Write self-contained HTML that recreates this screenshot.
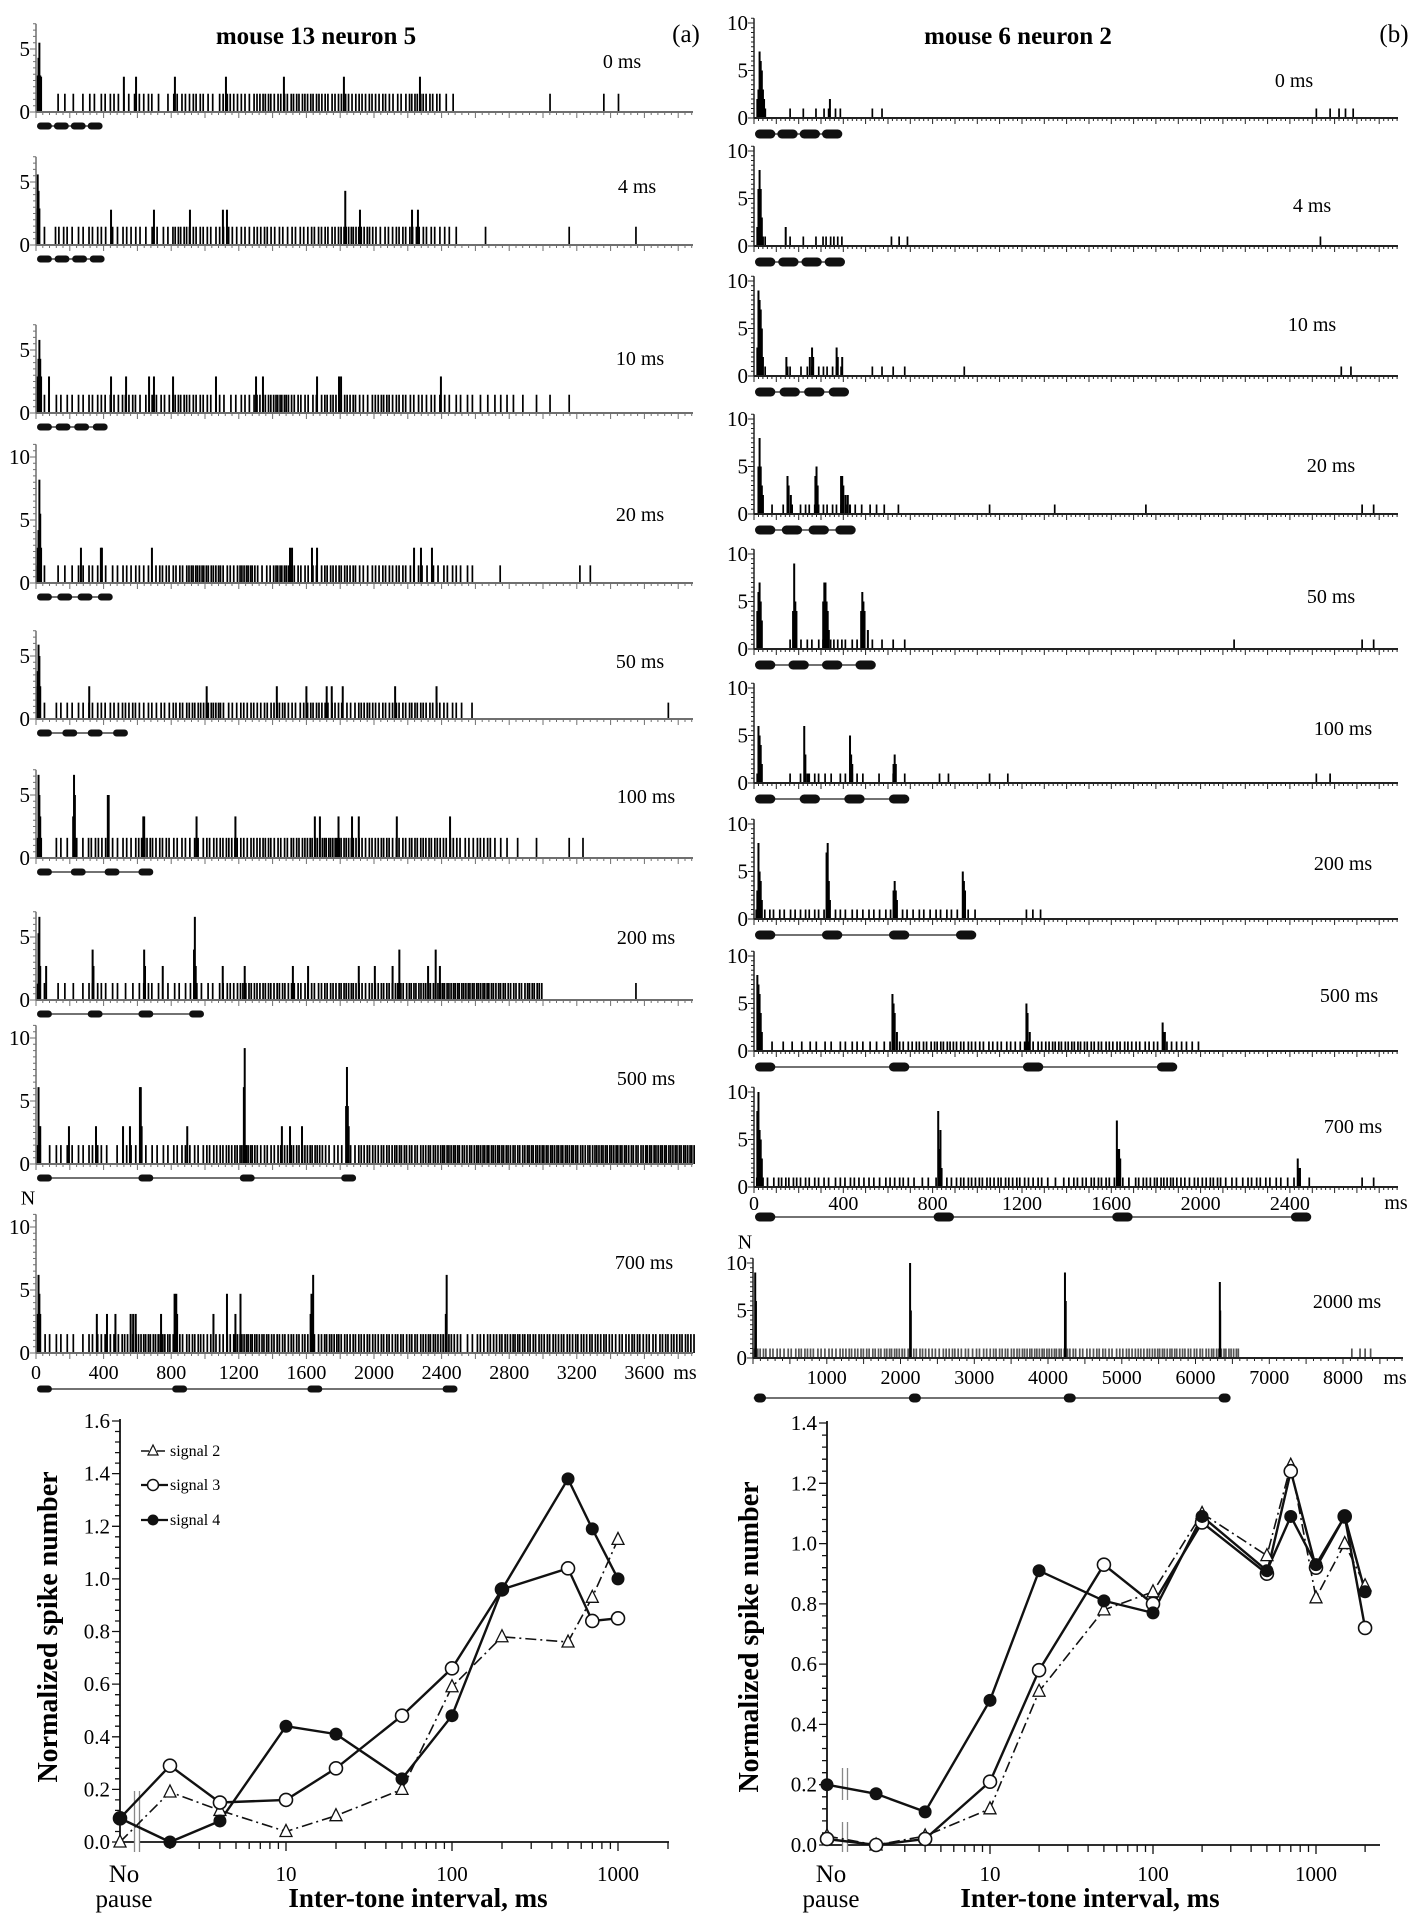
<!DOCTYPE html>
<html><head><meta charset="utf-8">
<style>
html,body{margin:0;padding:0;background:#fff;}
svg{display:block;font-family:"Liberation Serif",serif;}
</style></head>
<body>
<svg id="fig" xmlns="http://www.w3.org/2000/svg" width="1418" height="1918" viewBox="0 0 1418 1918">
<rect x="0" y="0" width="1418" height="1918" fill="#fff"/>
<text x="316" y="44" text-anchor="middle" font-size="25" font-weight="bold">mouse 13 neuron 5</text>
<text x="686" y="42" text-anchor="middle" font-size="25">(a)</text>
<text x="1018" y="44" text-anchor="middle" font-size="25" font-weight="bold">mouse 6 neuron 2</text>
<text x="1394" y="42" text-anchor="middle" font-size="25">(b)</text>
</svg>
<script>
// ===== Histogram data (spike density per bin, peak bins [time ms, value]) =====
const dens_L0 = [0,2,2,3,4,3,4,2,4,5,3,5,4,6,5,6,6,5,5,5,5,4,6,5,2,0,0,0,0,0,1,0,0,1,1,0,0,0,0];
const peaks_L0 = [[10,2.9],[15,4.3],[20,5.5],[25,2.9],[30,2.8],[520,2.8],[592,2.8],[822,2.8],[1124,2.8],[1467,2.8],[1822,2.8],[2272,2.8]];
const dens_L4 = [1,4,3,4,3,4,3,3,6,5,4,4,4,5,4,4,5,5,7,6,4,5,5,4,3,0,1,0,0,0,0,1,0,0,0,1,0,0,0];
const peaks_L4 = [[5,2.9],[10,5.6],[15,4.3],[20,2.9],[444,2.8],[698,2.8],[911,2.8],[1106,2.8],[1130,2.8],[1830,4.3],[1917,2.8],[2225,2.8],[2260,2.8]];
const dens_L10 = [1,3,3,4,4,5,3,4,6,5,4,3,4,6,8,5,4,6,6,4,6,5,4,4,3,3,2,3,2,1,1,1,0,0,0,0,0,0,0];
const peaks_L10 = [[10,2.9],[15,4.3],[20,5.8],[25,4.3],[30,2.9],[77,2.9],[444,2.9],[533,2.9],[669,2.9],[698,2.9],[811,2.9],[1065,2.9],[1302,2.9],[1343,2.9],[1663,2.9],[1793,2.9],[1805,2.9],[2396,2.9]];
const dens_L20 = [1,2,3,4,3,4,4,5,5,8,7,5,8,4,8,5,4,6,6,4,5,5,4,3,4,3,0,1,0,0,0,0,2,0,0,0,0,0,0];
const peaks_L20 = [[5,1.4],[10,2.8],[15,4.2],[20,8.2],[25,5.5],[30,2.8],[266,2.8],[384,2.8],[390,2.8],[686,2.8],[1503,2.8],[1515,2.8],[1633,2.8],[1663,2.8],[2237,2.8],[2278,2.8],[2343,2.8]];
const dens_L50 = [1,3,3,4,4,5,4,4,5,6,7,4,5,5,6,4,6,5,4,6,5,5,6,5,4,2,0,0,0,0,0,0,0,0,0,0,0,1,0];
const peaks_L50 = [[5,2.6],[10,3.8],[15,5.9],[20,5.0],[25,2.6],[315,2.6],[1010,2.6],[1425,2.6],[1600,2.6],[1720,2.6],[1750,2.6],[1815,2.6],[2125,2.6],[2370,2.6]];
const dens_L100 = [0,3,2,5,3,4,6,5,4,4,5,6,5,6,5,6,7,8,7,5,6,5,6,6,5,4,5,3,1,1,0,1,1,0,0,0,0,0,0];
const peaks_L100 = [[10,1.6],[15,6.6],[20,5.0],[25,3.3],[30,1.6],[220,3.3],[225,6.6],[230,5.0],[240,1.6],[425,5.0],[430,5.0],[630,1.6],[635,3.3],[640,3.3],[950,3.3],[1180,3.3],[1650,3.3],[1680,3.3],[1790,3.3],[1870,3.3],[1910,3.3],[2135,3.3],[2450,3.3]];
const dens_L200 = [1,2,2,4,3,2,4,2,3,3,3,5,6,6,6,5,5,6,7,5,6,6,7,7,8,8,8,7,6,7,0,0,0,0,0,1,0,0,0];
const peaks_L200 = [[10,1.3],[15,5.3],[20,6.6],[25,2.7],[335,4.0],[340,2.7],[640,4.0],[645,2.7],[935,4.0],[940,6.6],[945,2.7],[60,2.7],[750,2.7],[1105,2.7],[1235,2.7],[1520,2.7],[1610,2.7],[1910,2.7],[2005,2.7],[2110,2.7],[2150,4.0],[2320,2.7],[2365,4.0],[2390,2.7]];
const dens_L500 = [2,3,3,4,2,4,3,3,4,4,5,6,8,5,5,6,7,4,4,6,6,7,6,7,8,7,8,8,7,8,8,8,7,8,8,7,8,8,8];
const peaks_L500 = [[10,1.5],[15,6.1],[20,3.0],[25,3.0],[615,6.1],[620,6.1],[625,3.0],[1230,6.1],[1235,9.2],[1240,1.5],[1835,4.6],[1840,7.7],[1845,4.6],[1850,3.0],[195,3.0],[355,3.0],[515,3.0],[556,3.0],[895,3.0],[1455,3.0],[1503,3.0],[1574,3.0]];
const dens_L700 = [3,3,2,4,4,6,7,7,5,6,4,5,8,7,6,6,5,7,6,6,6,6,6,7,6,3,5,6,7,6,6,6,6,6,5,6,5,6,6];
const peaks_L700 = [[10,3.1],[15,6.2],[20,4.7],[25,3.1],[820,4.7],[825,3.1],[830,4.7],[835,3.1],[1625,3.1],[1630,4.7],[1640,6.2],[2425,3.1],[2430,6.2],[360,3.1],[420,3.1],[470,3.1],[560,3.1],[575,3.1],[590,3.1],[740,3.1],[1050,3.1],[1130,4.7],[1180,3.1],[1210,4.7]];

const dens_R0 = [0,1,2,4,0,2,0,0,0,0,0,0,0,0,0,0,0,0,0,0,0,0,0,0,0,2,3,0,0];
const peaks_R0 = [[15,2],[20,3],[25,7],[30,6],[35,5],[40,3],[45,2],[50,1],[340,2]];
const dens_R4 = [1,1,2,6,0,0,3,0,0,0,0,0,0,0,0,0,0,0,0,0,0,0,0,0,0,1,0,0,0];
const peaks_R4 = [[15,2],[20,6],[25,8],[30,6],[35,3],[40,1],[142,2]];
const dens_R10 = [1,1,4,5,0,2,2,0,0,1,0,0,0,0,0,0,0,0,0,0,0,0,0,0,0,0,2,0,0];
const peaks_R10 = [[15,3],[20,9],[25,8],[30,7],[35,5],[40,2],[145,2],[150,1],[250,2],[260,3],[265,2],[370,3],[375,2],[395,2]];
const dens_R20 = [2,2,5,5,3,3,1,0,0,0,1,0,0,1,0,0,0,1,0,0,0,0,0,0,0,0,0,2,0];
const peaks_R20 = [[20,5],[25,8],[30,5],[35,3],[40,2],[150,4],[155,3],[165,2],[275,4],[280,5],[285,3],[390,4],[395,4],[400,3],[410,2],[420,2],[430,1]];
const dens_R50 = [0,1,4,6,4,2,2,0,0,0,0,0,0,0,0,0,0,0,0,0,0,1,0,0,0,0,0,2,0];
const peaks_R50 = [[15,4],[20,6],[25,7],[30,5],[35,3],[175,4],[180,9],[185,5],[190,4],[310,5],[315,7],[320,7],[325,5],[330,4],[335,2],[480,4],[485,6],[490,5],[495,4],[510,2]];
const dens_R100 = [0,1,5,3,4,1,2,0,2,0,1,1,0,0,0,0,0,0,0,0,0,0,0,0,0,2,0,0,0];
const peaks_R100 = [[15,1],[20,6],[25,5],[30,4],[35,2],[225,6],[230,3],[240,1],[430,5],[435,3],[440,2],[625,2],[630,3],[635,2]];
const dens_R200 = [5,4,5,4,4,4,4,4,4,4,0,0,3,0,0,0,0,0,0,0,0,0,0,0,0,0,0,0,0];
const peaks_R200 = [[15,3],[20,8],[25,5],[30,4],[35,2],[325,7],[330,8],[335,4],[340,2],[625,3],[630,4],[635,3],[640,2],[935,5],[940,4],[945,3]];
const dens_R500 = [2,2,3,3,4,3,5,6,7,6,5,5,5,7,7,6,6,5,5,4,0,0,0,0,0,0,0,0,0];
const peaks_R500 = [[15,8],[20,7],[25,6],[30,4],[35,2],[620,6],[625,5],[630,4],[640,2],[1220,5],[1225,4],[1235,2],[1830,3],[1835,2],[1840,2]];
const dens_R700 = [4,6,5,4,5,4,5,3,4,6,6,6,5,3,5,6,3,6,7,5,6,4,5,4,3,0,0,2,0];
const peaks_R700 = [[15,8],[20,10],[25,6],[30,5],[35,3],[825,8],[830,4],[835,6],[840,2],[1625,7],[1630,4],[1635,4],[1640,3],[2435,3],[2440,2],[2445,2]];
const dens_R2000 = [5,4,4,5,4,4,5,5,5,6,5,5,4,5,4,4,5,5,6,6,6,5,4,5,4,5,5,6,6,5,5,6,6,0,0,0,0,0,0,0,1,3,0,0];
const peaks_R2000 = [[30,9],[40,6],[2130,10],[2140,5],[4230,9],[4240,6],[6330,8],[6335,5]];

const panelLabels = ["0 ms","4  ms","10 ms","20 ms","50 ms","100 ms","200 ms","500 ms","700 ms","2000 ms"];
const intervalsL = [0,4,10,20,50,100,200,500,700];
const intervalsR = [0,4,10,20,50,100,200,500,700,2000];
const xTicksL = ["0","400","800","1200","1600","2000","2400","2800","3200","3600"];
const xTicksR = ["0","400","800","1200","1600","2000","2400"];
const xTicksR2 = ["1000","2000","3000","4000","5000","6000","7000","8000"];

// ===== Line plot data =====
const xs_L = [1,2,4,10,20,50,100,200,500,700,1000];
const sig2_L = [0.0,0.19,0.12,0.04,0.10,0.20,0.59,0.78,0.76,0.93,1.15];
const sig3_L = [0.09,0.29,0.15,0.16,0.28,0.48,0.66,0.96,1.04,0.84,0.85];
const sig4_L = [0.09,0.0,0.08,0.44,0.41,0.24,0.48,0.96,1.38,1.19,1.0];
const xs_R = [1,2,4,10,20,50,100,200,500,700,1000,1500,2000];
const sig2_R = [0.03,0.0,0.03,0.12,0.51,0.78,0.84,1.10,0.96,1.26,0.82,1.00,0.86];
const sig3_R = [0.02,0.0,0.02,0.21,0.58,0.93,0.80,1.07,0.90,1.24,0.92,1.09,0.72];
const sig4_R = [0.20,0.17,0.11,0.48,0.91,0.81,0.77,1.09,0.91,1.09,0.93,1.09,0.84];
const yTicksL = ["0.0","0.2","0.4","0.6","0.8","1.0","1.2","1.4","1.6"];
const yTicksR = ["0.0","0.2","0.4","0.6","0.8","1.0","1.2","1.4"];
const xLogLabels = ["10","100","1000"];

const NS = "http://www.w3.org/2000/svg";
const svg = document.getElementById('fig');
function mk(tag, attrs, parent){
  const e = document.createElementNS(NS, tag);
  for (const k in attrs) e.setAttribute(k, attrs[k]);
  (parent||svg).appendChild(e);
  return e;
}
const jit = [0,0.35,-0.25,0.15,-0.4,0.3,-0.1];

const LEFT = {x0:36, x1:693, pxms:0.169, unit:12.6, major:200, minor:40, color:"#6f6f6f", stimDy:14, stimH:7, bgv:1.45};
const RIGHT = {x0:754, x1:1398, pxms:0.2233, unit:9.5, major:100, minor:20, color:"#222", stimDy:16, stimH:9, bgv:1};
const leftZero = [112,245,413,583,719,858,1000,1164,1353];
const leftTop = [7,7,7,11,7,7,7,11,11];
const leftBgv = [1.45,1.45,1.45,1.4,1.3,1.6,1.35,1.5,1.5];
const leftLab = [[622,68],[637,193],[640,365],[640,521],[640,668],[646,803],[646,944],[646,1085],[644,1269]];
const rightZero = [118,246,376,514,649,783,919,1051,1187,1358];
const rightLab = [[1294,87],[1312,212],[1312,331],[1331,472],[1331,603],[1343,735],[1343,870],[1349,1002],[1353,1133],[1347,1308]];
const densL = [dens_L0,dens_L4,dens_L10,dens_L20,dens_L50,dens_L100,dens_L200,dens_L500,dens_L700];
const peaksL = [peaks_L0,peaks_L4,peaks_L10,peaks_L20,peaks_L50,peaks_L100,peaks_L200,peaks_L500,peaks_L700];
const densR = [dens_R0,dens_R4,dens_R10,dens_R20,dens_R50,dens_R100,dens_R200,dens_R500,dens_R700,dens_R2000];
const peaksR = [peaks_R0,peaks_R4,peaks_R10,peaks_R20,peaks_R50,peaks_R100,peaks_R200,peaks_R500,peaks_R700,peaks_R2000];

function drawPanel(side, idx, cfg, zero, top, dens, peaks, interval, label, lab, binMs, bgv, tickLabels, tickStart, tickStep, stimExtra){
  const g = mk('g', {});
  
  
  const X = t => cfg.x0 + t * cfg.pxms;
  const Y = v => zero - v * cfg.unit;
  dens.forEach((n, b) => {
    for (let k = 0; k < n; k++) {
      const t = b*binMs + (k+0.5)*binMs/n + jit[(b+k)%7]*binMs/(n*3);
      const r = mk('rect', {x:X(t)-0.85, y:Y(bgv), width:1.7, height:zero-Y(bgv), fill: cfg.spike||'#000'}, g);
      
      
    }
  });
  peaks.forEach(p => {
    const r = mk('rect', {x:X(p[0])-1, y:Y(p[1]), width:2, height:zero-Y(p[1]), fill:'#000'}, g);
    
    
  });
  const ax = mk('line', {x1:cfg.x0, y1:zero, x2:cfg.x1, y2:zero, stroke:cfg.color, 'stroke-width':2}, g);
  
  
  const tmax = (cfg.x1-cfg.x0)/cfg.pxms;
  let d = '';
  for (let t = 0; t <= tmax; t += cfg.minor) {
    const isMaj = Math.abs(t/cfg.major - Math.round(t/cfg.major)) < 1e-6;
    d += 'M' + X(t).toFixed(1) + ' ' + zero + 'v' + (isMaj?6:3);
  }
  const tk = mk('path', {d:d, stroke:cfg.color, 'stroke-width':1}, g);
  
  
  const ya = mk('line', {x1:cfg.x0, y1:zero, x2:cfg.x0, y2:Y(top), stroke:cfg.color, 'stroke-width':1.5}, g);
  
  
  let dy = '';
  for (let v = 0; v <= top; v += 0.5) dy += 'M' + cfg.x0 + ' ' + Y(v).toFixed(1) + 'h' + (v%5===0?-6:-3);
  const yt = mk('path', {d:dy, stroke:cfg.color, 'stroke-width':1}, g);
  
  
  for (let v = 0; v <= top; v += 5) {
    const tl = mk('text', {x:cfg.x0-6, y:Y(v)+7, 'text-anchor':'end', 'font-size':21}, g);
    tl.textContent = String(v);
    
    
  }
  const lt = mk('text', {x:lab[0], y:lab[1], 'text-anchor':'middle', 'font-size':20}, g);
  lt.textContent = label;
  
  
  const sy = zero + cfg.stimDy + (stimExtra || 0);
  const tone = 100;
  const starts = [0,1,2,3].map(i => i*(tone+interval));
  const sl = mk('line', {x1:X(starts[0]+10), y1:sy, x2:X(starts[3]+tone-10), y2:sy, stroke:'#444', 'stroke-width':1.5}, g);
  
  
  starts.forEach(s => {
    const w = Math.max(X(s+tone)-X(s)-2, 12);
    const r = mk('rect', {x:X(s)+1, y:sy-cfg.stimH/2, width:w, height:cfg.stimH, rx:cfg.stimH/2, fill:'#111'}, g);
    
    
  });
  if (tickLabels) {
    tickLabels.forEach((s, i) => {
      const t = tickStart + i*tickStep;
      const tl = mk('text', {x:X(t), y:zero+26, 'text-anchor':'middle', 'font-size':20}, g);
      tl.textContent = s;
      
      
    });
    const ms = mk('text', {x:cfg.x1-8, y:zero+26, 'text-anchor':'middle', 'font-size':20}, g);
    ms.textContent = 'ms';
    
    
    const n = mk('text', {x:cfg.x0-8, y:Y(top)-10, 'text-anchor':'middle', 'font-size':20}, g);
    n.textContent = 'N';
    
    
  }
}

for (let i = 0; i < 9; i++) {
  const last = i === 8;
  drawPanel('left', i, LEFT, leftZero[i], leftTop[i], densL[i], peaksL[i], intervalsL[i], panelLabels[i], leftLab[i], 100, leftBgv[i], last?xTicksL:null, 0, 400, last?22:0);
}
for (let i = 0; i < 10; i++) {
  if (i === 9) {
    const cfg2 = Object.assign({}, RIGHT, {x0:753, x1:1403, pxms:0.07375, major:500, minor:100, spike:'#555', stimH:9});
    drawPanel('right', i, cfg2, rightZero[i], 10.5, densR[i], peaksR[i], intervalsR[i], panelLabels[i], rightLab[i], 200, 1, xTicksR2, 1000, 1000, 24);
  } else {
    const last = i === 8;
    const cfg = RIGHT;
    drawPanel('right', i, cfg, rightZero[i], 10.5, densR[i], peaksR[i], intervalsR[i], panelLabels[i], rightLab[i], 100, 1, null, 0, 400, last?14:0);
    if (last) {
      const X = t => cfg.x0 + t*cfg.pxms;
      xTicksR.forEach((s, k) => {
        const tl = mk('text', {x:X(k*400), y:rightZero[i]+23, 'text-anchor':'middle', 'font-size':20});
        
        
        tl.textContent = s;
      });
      const ms = mk('text', {x:1396, y:rightZero[i]+22, 'text-anchor':'middle', 'font-size':20});
      
      
      ms.textContent = 'ms';
    }
  }
}

function linePlot(side, P, xs, s2, s3, s4, yLabels){
  const g = mk('g', {});
  
  
  const X = v => P.x0 + P.dec*Math.log10(v);
  const Y = v => P.y0 - (v/P.ymax)*(P.y0-P.yTop);
  const ax = mk('line', {x1:P.x0, y1:P.y0, x2:P.xEnd, y2:P.y0, stroke:'#111', 'stroke-width':1.8}, g);
  
  
  const ya = mk('line', {x1:P.x0, y1:P.y0, x2:P.x0, y2:P.yTop-2, stroke:'#111', 'stroke-width':1.8}, g);
  
  
  let d = '';
  for (let dec = 1; dec <= 1000; dec *= 10) for (let m = 1; m <= 9; m++) {
    const v = dec*m; if (v < 2) continue; if (X(v) > P.xEnd + 1) continue;
    d += 'M' + X(v).toFixed(1) + ' ' + P.y0 + 'v' + (m===1?9:7);
  }
  for (let v = 0; v <= P.ymax + 1e-6; v += 0.04) d += 'M' + P.x0 + ' ' + Y(v).toFixed(1) + 'h' + (Math.abs(v*5-Math.round(v*5))<1e-6?-8:-5);
  const tk = mk('path', {d:d, stroke:'#111', 'stroke-width':1.3}, g);
  
  
  yLabels.forEach((s, i) => {
    const t = mk('text', {x:P.x0-10, y:Y(i*0.2)+7, 'text-anchor':'end', 'font-size':21}, g);
    
    
    t.textContent = s;
  });
  xLogLabels.forEach((s, i) => {
    const t = mk('text', {x:X(Math.pow(10,i+1)), y:1881, 'text-anchor':'middle', 'font-size':21}, g);
    
    
    t.textContent = s;
  });
  const no = mk('text', {x:P.x0+4, y:1882, 'text-anchor':'middle', 'font-size':25}, g);
  
  
  no.textContent = 'No';
  const pa = mk('text', {x:P.x0+4, y:1907, 'text-anchor':'middle', 'font-size':25}, g);
  
  
  pa.textContent = 'pause';
  const xt = mk('text', {x:P.xtx, y:1907, 'text-anchor':'middle', 'font-size':27, 'font-weight':'bold'}, g);
  
  
  xt.textContent = 'Inter-tone interval, ms';
  const yt = mk('text', {x:0, y:0, 'text-anchor':'middle', 'font-size':28, 'font-weight':'bold', transform:'translate(' + P.ytx + ',' + P.yty + ') rotate(-90)'}, g);
  
  
  yt.textContent = 'Normalized spike number';
  P.brk.forEach(b => {
    const r = mk('rect', {x:P.bx-3, y:b[0], width:6, height:b[1]-b[0], fill:'#fff'}, g);
    
    
    const l1 = mk('line', {x1:P.bx-2.5, y1:b[0], x2:P.bx-2.5, y2:b[1], stroke:'#888', 'stroke-width':1.3}, g);
    
    
    const l2 = mk('line', {x1:P.bx+2.5, y1:b[0], x2:P.bx+2.5, y2:b[1], stroke:'#888', 'stroke-width':1.3}, g);
    
    
  });
  const series = [
    {v:s2, name:'signal-2', dash:'11,4,2,4', w:1.6, m:'tri'},
    {v:s3, name:'signal-3', dash:'', w:2.4, m:'open'},
    {v:s4, name:'signal-4', dash:'', w:2.4, m:'fill'}
  ];
  series.forEach(s => {
    const pts = xs.map((x, i) => X(x).toFixed(1) + ',' + Y(s.v[i]).toFixed(1)).join(' ');
    const pl = mk('polyline', {points:pts, fill:'none', stroke:'#111', 'stroke-width':s.w, 'stroke-dasharray':s.dash}, g);
    
    
  });
  series.forEach(s => {
    xs.forEach((x, i) => {
      const cx = X(x), cy = Y(s.v[i]);
      let e;
      if (s.m === 'tri') e = mk('polygon', {points:(cx)+','+(cy-7)+' '+(cx-6)+','+(cy+5)+' '+(cx+6)+','+(cy+5), fill:'#fff', stroke:'#111', 'stroke-width':1.3}, g);
      else if (s.m === 'open') e = mk('circle', {cx:cx, cy:cy, r:6.5, fill:'#fff', stroke:'#111', 'stroke-width':1.6}, g);
      else e = mk('circle', {cx:cx, cy:cy, r:6.5, fill:'#111'}, g);
      
      
    });
  });
  return g;
}

linePlot('left', {x0:120, dec:166, y0:1842, yTop:1421, ymax:1.6, xEnd:669, xtx:418, ytx:57, yty:1627, bx:137, brk:[[1791,1852]]}, xs_L, sig2_L, sig3_L, sig4_L, yTicksL);
linePlot('right', {x0:827, dec:163, y0:1845, yTop:1423, ymax:1.4, xEnd:1380, xtx:1090, ytx:758, yty:1637, bx:845, brk:[[1768,1800],[1822,1852]]}, xs_R, sig2_R, sig3_R, sig4_R, yTicksR);

const legendNames = ['signal 2','signal 3','signal 4'];
const legendY = [1451,1485,1520];
legendNames.forEach((nm, i) => {
  const y = legendY[i];
  const ln = mk('line', {x1:141, y1:y, x2:168, y2:y, stroke:'#111', 'stroke-width':i===0?1.6:2.2, 'stroke-dasharray':i===0?'8,3,2,3':''});
  
  
  let m;
  if (i === 0) m = mk('polygon', {points:'153,'+(y-6)+' 148,'+(y+4)+' 158,'+(y+4), fill:'#fff', stroke:'#111', 'stroke-width':1.2});
  else if (i === 1) m = mk('circle', {cx:153, cy:y, r:5.5, fill:'#fff', stroke:'#111', 'stroke-width':1.5});
  else m = mk('circle', {cx:153, cy:y, r:5.5, fill:'#111'});
  
  
  const t = mk('text', {x:170, y:y+5, 'font-size':16});
  
  
  t.textContent = nm;
});
</script>
</body></html>
